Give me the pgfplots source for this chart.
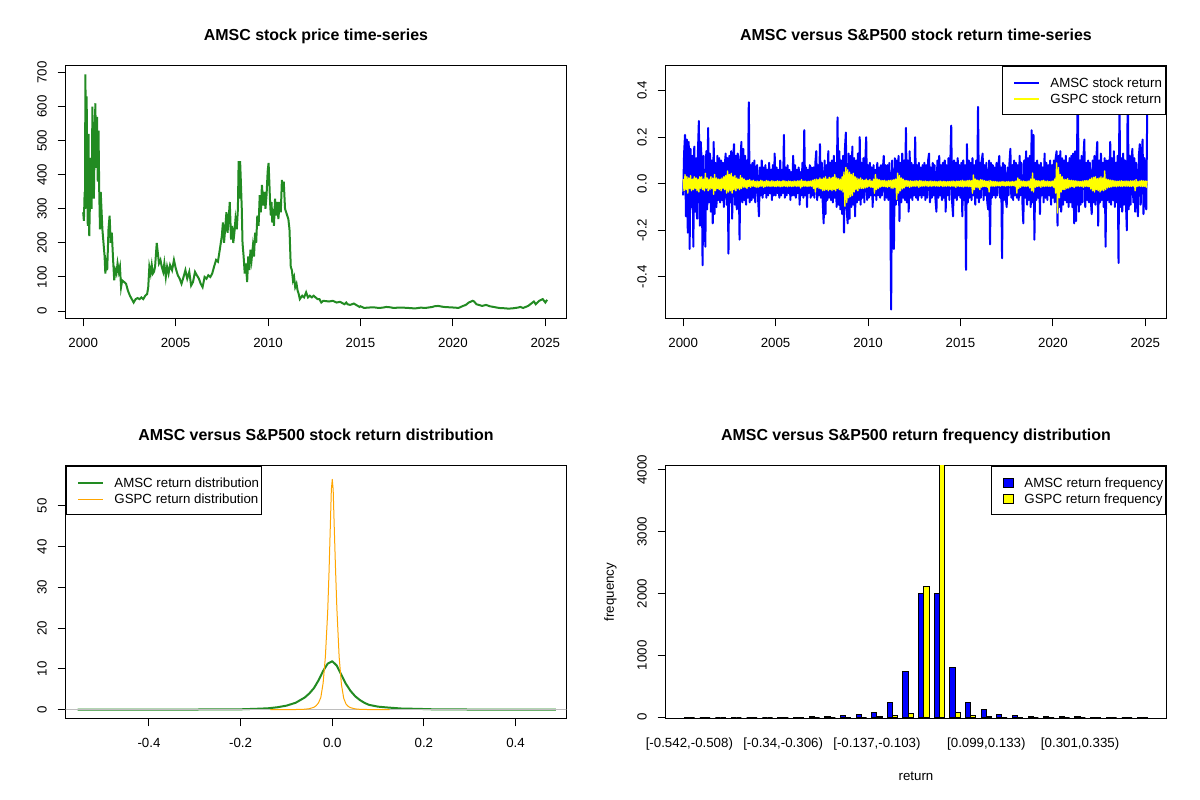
\documentclass[border=0pt]{standalone}
\usepackage{fontspec}
\setmainfont{Liberation Sans}
\usepackage{pgfplots}
\pgfplotsset{compat=1.18}
\definecolor{rgreen}{RGB}{34,139,34}
\definecolor{rblue}{RGB}{0,0,255}
\definecolor{ryellow}{RGB}{255,255,0}
\definecolor{rorange}{RGB}{255,165,0}
\definecolor{rgray}{RGB}{190,190,190}
\pgfplotsset{
  rbase/.style={
    scale only axis, width=375.6bp, height=189.6bp,
    anchor=south west,
    axis line style={line width=0.75bp, black},
    tick style={black, line width=0.75bp},
    tick align=outside, major tick length=6bp,
    xtick pos=bottom, ytick pos=left,
    /pgf/number format/assume math mode=true,
    /pgf/number format/set thousands separator={},
    tick label style={font=\fontsize{10}{12}\selectfont},
    xticklabel style={anchor=base, yshift=-15.7bp, inner sep=0pt},
    yticklabel style={xshift=-8bp, rotate=90, anchor=south, inner sep=0pt},
    title style={at={([yshift=19bp]axis description cs:0.5,1)}, anchor=base, yshift=-6pt, inner sep=0pt, font=\bfseries\fontsize{12}{14}\selectfont},
    xlabel style={at={([yshift=-46.9bp]axis description cs:0.5,0)}, anchor=base, inner sep=0pt, font=\fontsize{10}{12}\selectfont},
    ylabel style={at={([xshift=-38.8bp]axis description cs:0,0.5)}, rotate=0, anchor=base, inner sep=0pt, font=\fontsize{10}{12}\selectfont},
    legend style={draw=black, line width=0.75bp, fill=white, inner xsep=0pt, inner ysep=6bp, row sep=0pt, font=\fontsize{10}{12}\selectfont, nodes={inner sep=0pt, text height=10.3bp, text depth=1.7bp}, cells={anchor=base west}},
  },
  linelegend/.style={legend image code/.code={\path[draw=none, fill=none] (0bp,-1.7bp) rectangle (27.6bp,10.3bp); \draw[##1] (9bp,3.6bp) -- (27.6bp,3.6bp);}},
  boxlegend/.style={legend image code/.code={\path[draw=none, fill=none] (0bp,-1.7bp) rectangle (16.4bp,10.3bp); \draw[fill=#1, draw=black, line width=0.75bp] (9.2bp,0.1bp) rectangle (16.4bp,7.1bp);}},
}
\begin{document}
\begin{tikzpicture}
\useasboundingbox (0,0) rectangle (900bp,600bp);
% ---------------- Panel 1 ----------------
\begin{axis}[rbase, at={(49.2bp,361.2bp)},
  xmin=1999.05, xmax=2026.14, ymin=-21.6, ymax=720.6,
  xtick={2000,2005,2010,2015,2020,2025},
  ytick={0,100,200,300,400,500,600,700},
  title={AMSC stock price time-series}]
\addplot[rgreen, line width=1.5bp] coordinates {
(2000.00,290) (2000.04,265) (2000.08,350) (2000.10,300) (2000.12,695) (2000.15,480) (2000.19,630) (2000.22,350) (2000.25,250) (2000.29,520) (2000.31,300) (2000.33,220) (2000.37,330) (2000.39,450) (2000.43,320) (2000.46,300) (2000.50,600) (2000.54,400) (2000.58,330) (2000.62,500) (2000.66,610) (2000.70,420) (2000.75,570) (2000.79,380) (2000.83,530) (2000.87,350) (2000.91,240) (2000.95,350) (2000.99,300) (2001.04,240) (2001.10,200) (2001.16,160) (2001.20,110) (2001.24,140) (2001.30,120) (2001.37,240) (2001.43,280) (2001.49,200) (2001.55,230) (2001.62,150) (2001.68,90) (2001.74,120) (2001.80,110) (2001.86,140) (2001.93,115) (2001.99,130) (2002.05,70) (2002.11,90) (2002.22,85) (2002.32,80) (2002.42,60) (2002.53,45) (2002.63,35) (2002.73,25) (2002.84,35) (2002.94,38) (2003.05,35) (2003.15,40) (2003.25,35) (2003.36,45) (2003.46,50) (2003.52,70) (2003.58,130) (2003.65,110) (2003.71,135) (2003.77,110) (2003.83,115) (2003.89,130) (2003.98,200) (2004.04,170) (2004.10,140) (2004.18,150) (2004.25,130) (2004.33,115) (2004.39,140) (2004.47,100) (2004.54,130) (2004.62,110) (2004.70,135) (2004.81,120) (2004.91,150) (2005.01,125) (2005.12,105) (2005.22,95) (2005.32,80) (2005.43,100) (2005.53,120) (2005.63,95) (2005.74,115) (2005.84,75) (2005.94,85) (2006.05,115) (2006.15,105) (2006.26,95) (2006.36,80) (2006.46,70) (2006.57,100) (2006.67,95) (2006.77,105) (2006.88,100) (2006.98,110) (2007.08,130) (2007.19,150) (2007.29,145) (2007.39,180) (2007.50,220) (2007.56,260) (2007.62,200) (2007.68,240) (2007.75,290) (2007.81,230) (2007.87,270) (2007.93,320) (2008.00,210) (2008.06,250) (2008.12,200) (2008.18,230) (2008.24,270) (2008.31,240) (2008.37,300) (2008.41,440) (2008.45,330) (2008.49,440) (2008.53,380) (2008.58,300) (2008.62,200) (2008.68,160) (2008.74,110) (2008.80,140) (2008.87,85) (2008.93,160) (2008.99,120) (2009.05,180) (2009.11,150) (2009.18,190) (2009.24,160) (2009.30,230) (2009.36,200) (2009.42,280) (2009.49,250) (2009.55,340) (2009.61,290) (2009.67,370) (2009.74,310) (2009.80,350) (2009.86,300) (2009.92,340) (2009.98,410) (2010.03,435) (2010.07,380) (2010.11,320) (2010.15,280) (2010.19,320) (2010.23,260) (2010.27,300) (2010.32,250) (2010.38,330) (2010.44,280) (2010.50,320) (2010.56,270) (2010.63,320) (2010.69,290) (2010.75,385) (2010.81,350) (2010.85,380) (2010.92,300) (2010.98,290) (2011.04,280) (2011.10,270) (2011.16,240) (2011.23,130) (2011.29,120) (2011.35,90) (2011.41,100) (2011.47,70) (2011.54,80) (2011.60,60) (2011.66,50) (2011.72,35) (2011.85,45) (2011.95,40) (2012.06,55) (2012.16,40) (2012.26,45) (2012.37,40) (2012.47,45) (2012.57,40) (2012.68,35) (2012.78,35) (2012.88,25) (2012.99,30) (2013.30,28) (2013.50,30) (2013.71,25) (2013.90,27) (2014.13,20) (2014.23,25) (2014.30,20) (2014.44,18) (2014.64,22) (2014.95,12) (2015.00,14) (2015.20,9) (2015.37,10) (2015.70,11) (2016.00,9) (2016.20,10) (2016.40,12) (2016.60,11) (2016.80,9) (2017.03,10) (2017.30,10) (2017.60,9) (2017.85,8) (2018.00,8) (2018.27,10) (2018.50,9) (2018.89,12) (2019.00,14) (2019.20,15) (2019.51,12) (2019.80,11) (2020.13,10) (2020.30,9) (2020.55,15) (2020.70,18) (2020.86,25) (2021.07,30) (2021.15,28) (2021.27,20) (2021.40,18) (2021.58,15) (2021.79,18) (2022.00,14) (2022.20,12) (2022.50,9) (2022.83,8) (2023.00,7) (2023.24,8) (2023.50,10) (2023.65,12) (2023.80,9) (2024.07,15) (2024.38,28) (2024.48,20) (2024.67,30) (2024.86,35) (2025.00,25) (2025.10,33)
};
\end{axis}
% ---------------- Panel 2 ----------------
\begin{axis}[rbase, at={(499.2bp,361.2bp)},
  xmin=1999.05, xmax=2026.14, ymin=-0.578, ymax=0.5075,
  xtick={2000,2005,2010,2015,2020,2025},
  ytick={-0.4,-0.2,0,0.2,0.4},
  yticklabel style={/pgf/number format/.cd, fixed, fixed zerofill, precision=1},
  title={AMSC versus S\&P500 stock return time-series},
  legend style={at={(1,1)}, anchor=north east, column sep=7.7bp}]
\addplot[rblue, line width=1.5bp, line join=round, linelegend]
  table[header=false, row sep=\\, x expr=2000+0.05*\coordindex, y index=0] {
-0.05\\0.13\\0.21\\-0.14\\0.19\\-0.21\\0.18\\-0.28\\0.15\\-0.10\\0.12\\-0.27\\0.16\\-0.12\\0.11\\-0.15\\0.14\\0.27\\-0.18\\0.18\\
0.10\\-0.35\\0.12\\-0.09\\-0.27\\0.14\\-0.11\\0.24\\-0.08\\0.13\\-0.12\\0.10\\-0.17\\0.18\\-0.13\\0.09\\-0.10\\0.12\\-0.07\\0.11\\
-0.08\\0.10\\-0.07\\0.09\\-0.10\\0.08\\0.13\\-0.09\\0.11\\-0.30\\0.12\\-0.08\\0.14\\-0.15\\0.10\\0.17\\-0.09\\0.12\\-0.11\\0.13\\
0.09\\-0.24\\0.10\\0.18\\-0.08\\0.15\\-0.07\\0.12\\-0.09\\0.10\\-0.06\\0.35\\-0.08\\0.08\\-0.07\\0.09\\-0.06\\0.10\\-0.08\\0.07\\
0.08\\-0.06\\-0.14\\0.07\\-0.05\\0.10\\-0.06\\0.07\\-0.04\\0.08\\-0.06\\0.06\\-0.05\\0.09\\-0.04\\0.06\\-0.07\\0.08\\-0.05\\0.13\\
-0.05\\0.07\\-0.04\\0.06\\-0.06\\0.10\\-0.05\\0.06\\-0.04\\0.21\\-0.06\\0.07\\-0.05\\0.08\\-0.04\\0.06\\-0.07\\0.05\\-0.05\\0.12\\
-0.05\\0.08\\-0.06\\0.06\\-0.04\\0.07\\-0.09\\0.05\\-0.05\\0.09\\-0.06\\0.23\\-0.05\\0.07\\-0.10\\0.06\\-0.04\\0.08\\-0.06\\0.07\\
-0.05\\0.07\\-0.06\\0.09\\0.14\\-0.07\\0.08\\-0.05\\0.17\\-0.06\\0.09\\-0.08\\-0.17\\0.10\\-0.13\\0.08\\-0.07\\0.14\\-0.06\\0.09\\
-0.07\\0.10\\-0.08\\0.12\\-0.06\\0.09\\-0.10\\0.285\\-0.09\\0.14\\-0.11\\0.10\\-0.13\\0.12\\-0.21\\0.15\\0.22\\-0.12\\-0.17\\0.13\\
-0.15\\0.12\\-0.10\\0.16\\-0.09\\0.11\\-0.14\\0.10\\-0.08\\0.13\\-0.07\\0.20\\-0.09\\0.09\\-0.06\\0.11\\-0.08\\0.09\\0.20\\-0.07\\
0.08\\-0.06\\0.09\\-0.05\\0.07\\-0.10\\0.08\\-0.05\\0.06\\-0.07\\0.09\\-0.05\\0.07\\-0.06\\0.08\\-0.05\\0.06\\0.12\\-0.07\\0.08\\
-0.06\\0.08\\-0.07\\0.09\\-0.05\\-0.54\\0.10\\-0.08\\-0.28\\0.11\\-0.09\\0.10\\-0.07\\0.12\\-0.16\\0.09\\-0.08\\0.13\\-0.06\\0.10\\
-0.07\\0.24\\-0.08\\0.10\\-0.12\\0.14\\-0.06\\0.09\\-0.07\\0.08\\-0.05\\0.20\\-0.06\\0.08\\-0.07\\0.09\\-0.05\\0.07\\-0.06\\0.08\\
-0.05\\0.09\\-0.07\\0.08\\-0.06\\0.10\\0.13\\-0.08\\0.07\\-0.06\\0.09\\-0.05\\0.08\\-0.07\\-0.12\\0.10\\-0.06\\0.12\\-0.05\\0.08\\
-0.07\\0.09\\-0.06\\0.10\\-0.12\\0.08\\-0.05\\0.11\\-0.07\\0.09\\0.25\\-0.08\\-0.14\\0.10\\-0.06\\0.09\\-0.07\\0.11\\-0.05\\0.08\\
-0.06\\0.09\\-0.14\\0.10\\-0.07\\0.08\\-0.37\\0.17\\-0.08\\0.10\\-0.06\\0.09\\-0.07\\0.11\\-0.05\\0.08\\-0.09\\0.10\\-0.06\\0.33\\
-0.08\\0.09\\-0.06\\0.10\\0.13\\-0.07\\0.08\\-0.05\\0.09\\-0.08\\-0.11\\0.10\\-0.26\\0.09\\-0.06\\0.08\\-0.05\\0.07\\-0.06\\0.09\\
-0.05\\0.08\\0.12\\-0.06\\0.07\\-0.32\\0.09\\-0.07\\0.08\\-0.06\\-0.10\\0.07\\-0.05\\0.09\\0.15\\-0.06\\0.08\\-0.07\\0.10\\-0.05\\
0.09\\-0.06\\0.08\\-0.07\\0.12\\-0.05\\0.09\\-0.08\\-0.17\\0.10\\-0.06\\0.14\\-0.09\\0.11\\-0.07\\0.12\\-0.10\\0.23\\-0.08\\0.21\\
-0.24\\0.09\\-0.07\\0.10\\-0.06\\0.08\\-0.13\\0.09\\-0.05\\0.07\\-0.08\\0.13\\-0.06\\0.09\\-0.07\\0.08\\-0.05\\0.10\\-0.09\\0.08\\
-0.06\\0.10\\-0.08\\0.11\\0.14\\-0.18\\0.12\\-0.10\\0.14\\-0.12\\0.11\\-0.09\\0.10\\-0.07\\0.12\\-0.08\\0.09\\-0.10\\0.11\\-0.08\\
0.12\\-0.10\\0.13\\-0.17\\0.14\\-0.16\\0.11\\0.42\\-0.12\\0.10\\-0.09\\0.12\\-0.08\\0.11\\0.19\\-0.10\\0.09\\-0.07\\0.10\\-0.08\\
0.09\\-0.07\\-0.13\\0.10\\-0.08\\0.12\\-0.09\\0.11\\0.18\\-0.18\\0.10\\-0.08\\0.13\\-0.07\\0.09\\-0.10\\0.11\\-0.27\\0.10\\-0.07\\
0.10\\-0.08\\0.18\\-0.09\\0.11\\-0.07\\0.14\\-0.10\\0.09\\-0.08\\0.12\\-0.34\\0.38\\-0.10\\0.11\\-0.12\\0.13\\-0.09\\0.10\\-0.08\\
-0.20\\0.46\\-0.11\\0.12\\-0.09\\0.10\\0.15\\-0.08\\0.11\\-0.12\\0.09\\-0.07\\-0.14\\0.12\\0.17\\-0.09\\0.10\\0.19\\-0.13\\0.11\\
-0.08\\-0.11\\0.30\\
};
\addlegendentry{AMSC stock return\kern3bp}
\addplot[ryellow, line width=1bp, line join=round, linelegend]
  table[header=false, row sep=\\, x expr=2000+0.05*\coordindex, y index=0] {
0.02\\-0.03\\0.04\\-0.025\\0.03\\-0.04\\0.025\\-0.02\\0.035\\-0.03\\0.02\\-0.025\\0.03\\-0.02\\0.025\\-0.03\\0.02\\-0.035\\0.03\\-0.02\\
0.03\\-0.025\\0.02\\-0.03\\0.045\\-0.02\\0.025\\-0.03\\0.02\\-0.025\\0.03\\-0.02\\0.025\\-0.045\\0.04\\-0.03\\0.025\\-0.02\\0.02\\-0.025\\
0.02\\-0.03\\0.025\\-0.02\\0.03\\-0.025\\0.035\\-0.04\\0.055\\-0.035\\0.04\\-0.03\\0.045\\-0.04\\0.03\\-0.025\\0.035\\-0.03\\0.025\\-0.02\\
0.02\\-0.025\\0.035\\-0.02\\0.025\\-0.015\\0.02\\-0.015\\0.015\\-0.02\\0.015\\-0.012\\0.018\\-0.015\\0.012\\-0.01\\0.015\\-0.012\\0.01\\-0.015\\
0.012\\-0.015\\0.01\\-0.012\\0.015\\-0.01\\0.012\\-0.015\\0.01\\-0.012\\0.014\\-0.01\\0.012\\-0.011\\0.01\\-0.012\\0.013\\-0.01\\0.011\\-0.012\\
0.01\\-0.012\\0.013\\-0.01\\0.011\\-0.013\\0.01\\-0.012\\0.014\\-0.01\\0.012\\-0.011\\0.01\\-0.013\\0.012\\-0.01\\0.011\\-0.012\\0.01\\-0.011\\
0.012\\-0.01\\0.011\\-0.012\\0.013\\-0.01\\0.012\\-0.018\\0.018\\-0.012\\0.011\\-0.01\\0.012\\-0.011\\0.01\\-0.012\\0.011\\-0.01\\0.012\\-0.011\\
0.015\\-0.02\\0.018\\-0.035\\0.02\\-0.015\\0.018\\-0.02\\0.025\\-0.022\\0.02\\-0.03\\0.025\\-0.028\\0.03\\-0.025\\0.02\\-0.03\\0.028\\-0.025\\
0.025\\-0.03\\0.028\\-0.025\\0.04\\-0.03\\0.025\\-0.02\\0.022\\-0.025\\0.02\\-0.028\\0.03\\-0.035\\0.05\\-0.097\\0.07\\-0.08\\0.06\\-0.06\\
0.05\\-0.055\\0.04\\-0.05\\0.045\\-0.035\\0.03\\-0.025\\0.025\\-0.03\\0.02\\-0.02\\0.025\\-0.02\\0.018\\-0.02\\0.015\\-0.018\\0.02\\-0.015\\
0.015\\-0.012\\0.018\\-0.015\\0.012\\-0.015\\0.02\\-0.04\\0.04\\-0.025\\0.02\\-0.02\\0.018\\-0.015\\0.015\\-0.012\\0.014\\-0.012\\0.015\\-0.013\\
0.012\\-0.015\\0.014\\-0.012\\0.015\\-0.018\\0.016\\-0.02\\0.018\\-0.015\\0.02\\-0.067\\0.046\\-0.04\\0.035\\-0.03\\0.025\\-0.022\\0.02\\-0.018\\
0.015\\-0.012\\0.014\\-0.011\\0.012\\-0.015\\0.013\\-0.012\\0.011\\-0.01\\0.012\\-0.011\\0.013\\-0.01\\0.012\\-0.015\\0.014\\-0.011\\0.012\\-0.01\\
0.011\\-0.01\\0.012\\-0.009\\0.01\\-0.012\\0.011\\-0.01\\0.012\\-0.011\\0.01\\-0.009\\0.011\\-0.01\\0.009\\-0.01\\0.01\\-0.011\\0.012\\-0.009\\
0.01\\-0.012\\0.011\\-0.01\\0.009\\-0.011\\0.01\\-0.009\\0.01\\-0.012\\0.011\\-0.01\\0.012\\-0.011\\0.01\\-0.015\\0.012\\-0.01\\0.011\\-0.012\\
0.013\\-0.012\\0.015\\-0.014\\0.012\\-0.011\\0.013\\-0.012\\0.014\\-0.013\\0.015\\-0.012\\0.013\\-0.04\\0.038\\-0.025\\0.02\\-0.015\\0.016\\-0.018\\
0.015\\-0.025\\0.018\\-0.015\\0.016\\-0.012\\0.014\\-0.012\\0.011\\-0.015\\0.012\\-0.035\\0.014\\-0.01\\0.011\\-0.01\\0.01\\-0.011\\0.01\\-0.009\\
0.008\\-0.009\\0.008\\-0.01\\0.009\\-0.008\\0.01\\-0.009\\0.008\\-0.01\\0.009\\-0.008\\0.01\\-0.009\\0.008\\-0.009\\0.01\\-0.008\\0.009\\-0.01\\
0.012\\-0.04\\0.025\\-0.02\\0.018\\-0.015\\0.012\\-0.01\\0.012\\-0.011\\0.01\\-0.012\\0.011\\-0.01\\0.012\\-0.018\\0.02\\-0.03\\0.046\\-0.035\\
0.02\\-0.015\\0.014\\-0.012\\0.013\\-0.011\\0.012\\-0.015\\0.013\\-0.011\\0.015\\-0.012\\0.011\\-0.01\\0.012\\-0.011\\0.01\\-0.012\\0.011\\-0.01\\
0.012\\-0.015\\0.02\\-0.04\\0.09\\-0.125\\0.07\\-0.06\\0.04\\-0.035\\0.03\\-0.025\\0.02\\-0.025\\0.018\\-0.02\\0.022\\-0.018\\0.015\\-0.014\\
0.015\\-0.012\\0.014\\-0.016\\0.013\\-0.011\\0.012\\-0.01\\0.011\\-0.012\\0.01\\-0.011\\0.012\\-0.015\\0.013\\-0.011\\0.014\\-0.012\\0.015\\-0.013\\
0.02\\-0.022\\0.025\\-0.03\\0.028\\-0.035\\0.03\\-0.025\\0.022\\-0.03\\0.025\\-0.035\\0.03\\-0.028\\0.025\\-0.03\\0.055\\-0.025\\0.02\\-0.018\\
0.018\\-0.015\\0.016\\-0.014\\0.015\\-0.012\\0.013\\-0.011\\0.012\\-0.013\\0.011\\-0.01\\0.012\\-0.011\\0.013\\-0.012\\0.011\\-0.01\\0.012\\-0.011\\
0.012\\-0.01\\0.011\\-0.012\\0.013\\-0.011\\0.012\\-0.01\\0.014\\-0.03\\0.018\\-0.012\\0.011\\-0.01\\0.012\\-0.011\\0.014\\-0.012\\0.013\\-0.011\\
0.012\\-0.015\\0.013\\
};
\addlegendentry{GSPC stock return\kern3bp}
\end{axis}
% ---------------- Panel 3 ----------------
\begin{axis}[rbase, at={(49.2bp,61.2bp)},
  xmin=-0.582, xmax=0.511, ymin=-2.13, ymax=59.9,
  xtick={-0.4,-0.2,0,0.2,0.4},
  ytick={0,10,20,30,40,50},
  xticklabel style={/pgf/number format/.cd, fixed, fixed zerofill, precision=1},
  title={AMSC versus S\&P500 stock return distribution},
  legend style={at={(0,1)}, anchor=north west, column sep=7.9bp}]
\addplot[rgreen, line width=1.5bp, line join=round, linelegend]
  coordinates {
(-0.556,0.05) (-0.3,0.05) (-0.2,0.1) (-0.16,0.25) (-0.14,0.35) (-0.12,0.6) (-0.10,1.0) (-0.08,1.7) (-0.06,3.0) (-0.05,4.0) (-0.04,5.3) (-0.03,7.2) (-0.02,9.5) (-0.01,11.3) (0.0,11.9) (0.01,10.8) (0.02,8.5) (0.03,6.3) (0.04,4.6) (0.05,3.3) (0.06,2.4) (0.07,1.7) (0.08,1.2) (0.1,0.75) (0.12,0.55) (0.15,0.3) (0.19,0.2) (0.22,0.1) (0.3,0.05) (0.488,0.05)
};
\addlegendentry{AMSC return distribution\kern2bp}
\addplot[rgray, line width=0.6bp, forget plot] coordinates {(-0.7,0) (0.7,0)};
\addplot[rorange, line width=0.75bp, line join=round, linelegend]
  coordinates {
(-0.135,0.01) (-0.10,0.02) (-0.08,0.05) (-0.06,0.12) (-0.05,0.25) (-0.04,0.6) (-0.035,1.0) (-0.03,1.7) (-0.025,3.0) (-0.02,6.5) (-0.015,13) (-0.01,24) (-0.007,34) (-0.004,46) (-0.002,54) (0.0,56.5) (0.002,54) (0.004,46) (0.007,35) (0.01,25) (0.015,13) (0.02,6.2) (0.025,2.8) (0.03,1.4) (0.035,0.8) (0.04,0.5) (0.05,0.2) (0.06,0.1) (0.08,0.04) (0.10,0.02) (0.125,0.01)
};
\addlegendentry{GSPC return distribution\kern2bp}
\end{axis}
% ---------------- Panel 4 ----------------
\begin{axis}[rbase, at={(499.2bp,61.2bp)},
  xmin=-2.56, xmax=93.56, ymin=-21.6, ymax=4070,
  xtick={2,20,38,59,77},
  xticklabels={{[-0.542,-0.508)},{[-0.34,-0.306)},{[-0.137,-0.103)},{[0.099,0.133)},{[0.301,0.335)}},
  major x tick style={draw=none},
  ytick={0,1000,2000,3000,4000},
  title={AMSC versus S\&P500 return frequency distribution},
  xlabel={return}, ylabel={frequency},
  legend style={at={(1,1)}, anchor=north east, column sep=8bp}]
\addplot[ybar, bar width=1, bar shift=-0.5, fill=rblue, draw=black, line width=0.75bp, boxlegend=rblue]
  coordinates {
(2,1) (5,0) (8,0) (11,0) (14,0) (17,0) (20,1) (23,1) (26,15) (29,3) (32,18) (35,35) (38,68) (41,230) (44,745) (47,2000) (50,2000) (53,795) (56,243) (59,117) (62,38) (65,18) (68,14) (71,12) (74,3) (77,2) (80,1) (83,1) (86,0) (89,1)
};
\addlegendentry{AMSC return frequency\kern2bp}
\addplot[ybar, bar width=1, bar shift=0.5, fill=ryellow, draw=black, line width=0.75bp, boxlegend=ryellow]
  coordinates {
(2,0) (5,0) (8,0) (11,0) (14,0) (17,0) (20,0) (23,0) (26,0) (29,0) (32,0) (35,0) (38,3) (41,20) (44,52) (47,2120) (50,4150) (53,68) (56,18) (59,4) (62,0) (65,0) (68,0) (71,0) (74,0) (77,0) (80,0) (83,0) (86,0) (89,0)
};
\addlegendentry{GSPC return frequency\kern2bp}
\end{axis}
\end{tikzpicture}
\end{document}
